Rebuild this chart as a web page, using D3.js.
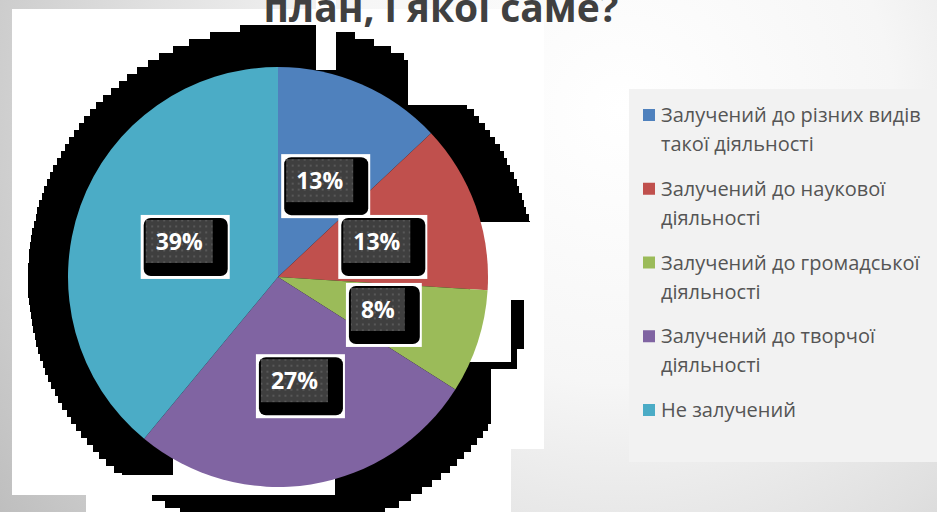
<!DOCTYPE html>
<html>
<head>
<meta charset="utf-8">
<script src="https://cdn.jsdelivr.net/npm/d3@7"></script>
<style>
  html, body { margin: 0; padding: 0; background: #fff; }
  svg { display: block; }
</style>
</head>
<body>
<svg id="chart" width="937" height="512"></svg>
<script>
// ---------- data ----------
const titleText = "план, і якої саме?";
const categories = [
  "Залучений до різних видів такої діяльності",
  "Залучений до наукової діяльності",
  "Залучений до громадської діяльності",
  "Залучений до творчої діяльності",
  "Не залучений"
];
const values = [13, 13, 8, 27, 39];
const colors = ["#4f81bd", "#c0504d", "#9bbb59", "#8064a2", "#4bacc6"];

// ---------- layout ----------
const W = 937, H = 512;
const cx = 278, cy = 277, R = 210;
const svg = d3.select("#chart");
const defs = svg.append("defs");

// slide background
const bg = defs.append("radialGradient").attr("id", "bg")
  .attr("gradientUnits", "userSpaceOnUse")
  .attr("cx", 620).attr("cy", 110).attr("r", 780);
[[0, "#ffffff"], [0.35, "#f6f6f6"], [0.62, "#e0e0e0"], [1, "#b9b9b9"]]
  .forEach(([o, c]) => bg.append("stop").attr("offset", o).attr("stop-color", c));
svg.append("rect").attr("width", W).attr("height", H).attr("fill", "url(#bg)");

// white chart panel
const panel = svg.append("g").attr("fill", "#ffffff");
panel.append("rect").attr("x", 12).attr("y", 9).attr("width", 532).attr("height", 440);
panel.append("rect").attr("x", 12).attr("y", 449).attr("width", 499).attr("height", 46);
panel.append("rect").attr("x", 86).attr("y", 495).attr("width", 425).attr("height", 17);

// pixelated black shadow behind the pie
const sh = { x: 282, y: 279, r: 254, step: 7 };
const rows = d3.range(sh.y - sh.r, H, sh.step);
svg.append("g").attr("fill", "#000").selectAll("rect").data(rows).join("rect")
  .attr("shape-rendering", "crispEdges")
  .attr("y", d => d)
  .attr("height", sh.step)
  .attr("x", d => {
    const dy = Math.min(Math.abs(d + sh.step / 2 - sh.y), sh.r);
    return Math.round(sh.x - Math.sqrt(sh.r * sh.r - dy * dy));
  })
  .attr("width", d => {
    const dy = Math.min(Math.abs(d + sh.step / 2 - sh.y), sh.r);
    return Math.round(2 * Math.sqrt(sh.r * sh.r - dy * dy));
  });

// white gaps in the broken shadow
const cuts = [
  [316, 0, 20, 70], [408, 9, 136, 96], [470, 222, 74, 78], [470, 300, 41, 62],
  [524, 300, 20, 69], [517, 349, 27, 20], [491, 369, 53, 61],
  [173, 455, 162, 40], [86, 475, 87, 20]
];
svg.append("g").attr("fill", "#fff").selectAll("rect").data(cuts).join("rect")
  .attr("shape-rendering", "crispEdges")
  .attr("x", d => d[0]).attr("y", d => d[1]).attr("width", d => d[2]).attr("height", d => d[3]);

// pie
const pie = d3.pie().sort(null).value(d => d);
const arcs = pie(values);
const arc = d3.arc().innerRadius(0).outerRadius(R);
const gPie = svg.append("g").attr("transform", `translate(${cx},${cy})`);
gPie.selectAll("path").data(arcs).join("path")
  .attr("d", arc)
  .attr("fill", (d, i) => colors[i]);

// dotted label texture
const pat = defs.append("pattern").attr("id", "dots")
  .attr("patternUnits", "userSpaceOnUse").attr("width", 6).attr("height", 6);
pat.append("rect").attr("width", 6).attr("height", 6).attr("fill", "#3f3f3f");
pat.append("rect").attr("x", 2).attr("y", 2).attr("width", 2).attr("height", 2).attr("fill", "#585858");

// data labels
const labelFont = "bold 23px 'Open Sans', sans-serif";
const gLab = svg.append("g").attr("transform", `translate(${cx},${cy})`);
arcs.forEach((a, i) => {
  const [lx, ly] = arc.centroid(a);
  const g = gLab.append("g").attr("transform", `translate(${lx},${ly})`);
  const t = g.append("text").text(values[i] + "%")
    .attr("text-anchor", "middle").attr("dy", "0.36em")
    .attr("fill", "#ffffff").style("font", labelFont);
  const tw = t.node().getComputedTextLength();
  const bw = tw + 20, bh = 43;
  const x0 = -bw / 2, y0 = -bh / 2;
  g.insert("rect", "text").attr("x", x0 - 5).attr("y", y0 - 5)
    .attr("width", bw + 22).attr("height", bh + 21).attr("fill", "#ffffff");
  g.insert("rect", "text").attr("x", x0 - 2).attr("y", y0 - 2)
    .attr("width", bw + 17).attr("height", bh + 15).attr("rx", 7).attr("fill", "#000000");
  g.insert("rect", "text").attr("x", x0).attr("y", y0)
    .attr("width", bw).attr("height", bh).attr("fill", "url(#dots)");
});

// legend box
svg.append("rect").attr("x", 629).attr("y", 89).attr("width", W - 629).attr("height", 373)
  .attr("fill", "#f2f2f2");

const legFont = "20px 'Open Sans', sans-serif";
const gLeg = svg.append("g").attr("transform", "translate(643,0)");
const maxLine = 285;
const measure = svg.append("text").style("font", legFont).attr("visibility", "hidden");
function wrap(str) {
  const words = str.split(" ");
  const lines = [];
  let cur = "";
  words.forEach(w => {
    const test = cur ? cur + " " + w : w;
    measure.text(test);
    if (measure.node().getComputedTextLength() > maxLine && cur) {
      lines.push(cur); cur = w;
    } else cur = test;
  });
  lines.push(cur);
  return lines;
}
const itemY = d3.scalePoint().domain(categories).range([122, 417]);
categories.forEach((c, i) => {
  const y = itemY(c);
  gLeg.append("rect").attr("x", 0).attr("y", y - 13).attr("width", 12).attr("height", 12)
    .attr("fill", colors[i]);
  const t = gLeg.append("text").attr("x", 18).attr("y", y)
    .attr("fill", "#555555").style("font", legFont);
  wrap(c).forEach((ln, j) => {
    t.append("tspan").attr("x", 18).attr("y", y + j * 29).text(ln);
  });
});
measure.remove();

// title (cut by the top edge, as in the slide)
svg.append("text").attr("x", 441).attr("y", 22).attr("text-anchor", "middle")
  .attr("fill", "#404040").style("font", "bold 39px 'Open Sans', sans-serif")
  .text(titleText);
</script>
</body>
</html>
